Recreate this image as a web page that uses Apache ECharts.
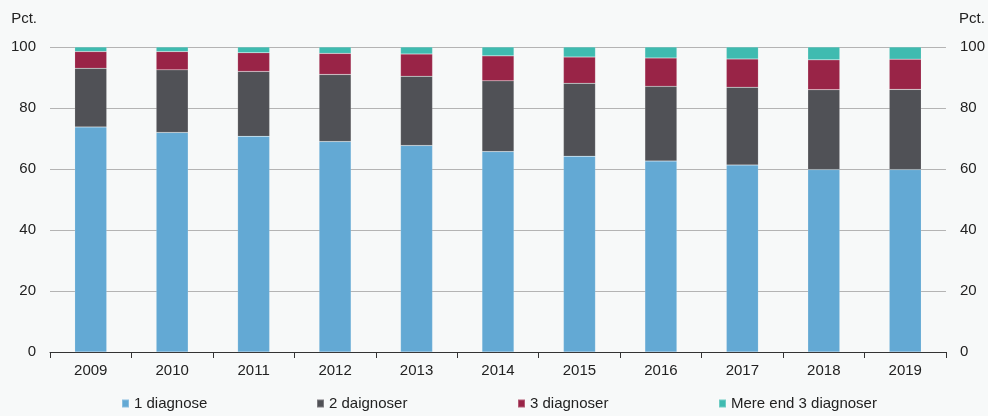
<!DOCTYPE html>
<html>
<head>
<meta charset="utf-8">
<script src="https://cdn.jsdelivr.net/npm/echarts@6/dist/echarts.min.js"></script>
<style>
  html, body { margin: 0; padding: 0; background: #f7f9f9; }
  #main { width: 988px; height: 416px; }
</style>
</head>
<body>
<div id="main"></div>
<script>
  var years = ['2009', '2010', '2011', '2012', '2013', '2014', '2015', '2016', '2017', '2018', '2019'];
  var oneDiag = [73.8, 72.0, 70.7, 69.0, 67.7, 65.7, 64.2, 62.6, 61.3, 59.8, 59.8];
  var twoDiag = [19.2, 20.5, 21.3, 22.0, 22.7, 23.2, 23.9, 24.5, 25.5, 26.2, 26.3];
  var threeDiag = [5.5, 6.0, 6.1, 6.9, 7.3, 8.2, 8.6, 9.3, 9.3, 9.8, 9.9];
  var moreDiag = [1.5, 1.5, 1.9, 2.1, 2.3, 2.9, 3.3, 3.6, 3.9, 4.2, 4.0];
  var seriesNames = ['1 diagnose', '2 daignoser', '3 diagnoser', 'Mere end 3 diagnoser'];
  var colors = ['#63a9d4', '#505156', '#992447', '#3fbbb0'];

  var font = 'Liberation Sans, Arial, sans-serif';
  var fs = 15;
  var chart = echarts.init(document.getElementById('main'));

  function bar(i, data) {
    return {
      name: seriesNames[i],
      type: 'bar',
      stack: 'all',
      data: data,
      barWidth: 32,
      itemStyle: { color: colors[i], borderColor: 'rgba(255,255,255,0.25)', borderWidth: 0.5 }
    };
  }

  // one legend per item so each sits where the reference puts it
  var legendLeft = [121, 316, 517, 718];
  var legends = seriesNames.map(function (n, i) {
    return {
      top: 396,
      left: legendLeft[i],
      padding: 0,
      itemWidth: 7,
      itemHeight: 8,
      icon: 'rect',
      textStyle: { color: '#222', fontSize: fs, fontFamily: font },
      data: [n]
    };
  });

  var yAxisBase = {
    type: 'value',
    min: 0,
    max: 100,
    interval: 20,
    axisLine: { show: false },
    axisTick: { show: false },
    splitLine: { show: true, lineStyle: { color: '#b4b4b4', width: 1 } },
    axisLabel: { color: '#222', fontSize: fs, fontFamily: font, margin: 14 },
    nameGap: 21
  };

  chart.setOption({
    backgroundColor: '#f7f9f9',
    animation: false,
    grid: { left: 50, right: 41, top: 47, bottom: 64 },
    legend: legends,
    xAxis: {
      type: 'category',
      data: years,
      axisLine: { lineStyle: { color: '#333', width: 1 } },
      axisTick: { show: true, length: 6, lineStyle: { color: '#333' } },
      axisLabel: { color: '#222', fontSize: fs, fontFamily: font, margin: 11 }
    },
    yAxis: [
      Object.assign({}, yAxisBase, {
        position: 'left',
        name: 'Pct.',
        nameTextStyle: { color: '#222', fontSize: fs, fontFamily: font, align: 'right', padding: [0, 13, 0, 0] }
      }),
      Object.assign({}, yAxisBase, {
        position: 'right',
        name: 'Pct.',
        splitLine: { show: false },
        nameTextStyle: { color: '#222', fontSize: fs, fontFamily: font, align: 'left', padding: [0, 0, 0, 13] }
      })
    ],
    series: [
      bar(0, oneDiag),
      bar(1, twoDiag),
      bar(2, threeDiag),
      bar(3, moreDiag)
    ]
  });
</script>
</body>
</html>
